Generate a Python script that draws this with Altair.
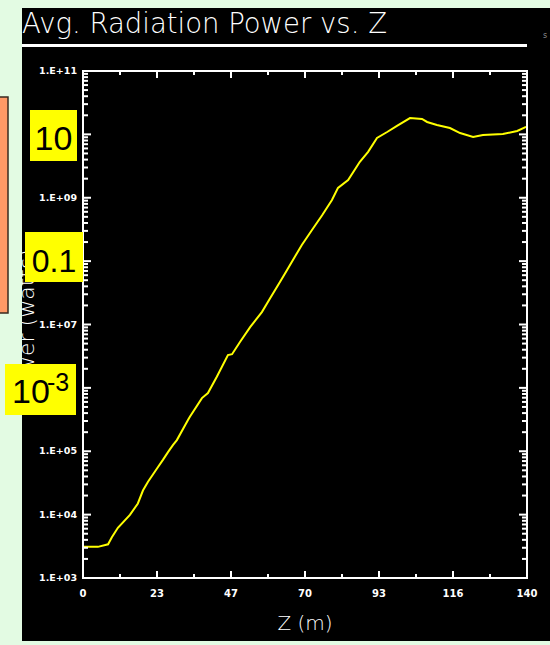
import altair as alt
import pandas as pd

# ---- data ----
z_m = [0, 4.7, 7.9, 9.1, 11.0, 14.8, 17.3, 18.9, 20.5, 23.6, 25.2, 26.8, 28.4, 29.6,
       33.1, 33.7, 37.5, 39.4, 42.2, 45.7, 47.0, 49.5, 52.7, 56.4, 59.0, 62.1, 64.3,
       69.0, 72.2, 75.4, 78.5, 80.4, 83.6, 87.3, 89.9, 92.7, 95.9, 99.0, 103.1, 106.9,
       108.5, 111.6, 115.7, 118.9, 123.0, 126.1, 132.4, 136.9, 139.7]
power_w = [3.1e3, 3.1e3, 3.4e3, 4.4e3, 6.2e3, 9.9e3, 1.5e4, 2.4e4, 3.3e4, 5.6e4, 7.3e4,
           9.7e4, 1.26e5, 1.5e5, 3.1e5, 3.5e5, 6.9e5, 8.3e5, 1.5e6, 3.3e6, 3.4e6, 5.3e6,
           9.1e6, 1.57e7, 2.6e7, 4.7e7, 7.2e7, 1.8e8, 3.1e8, 5.3e8, 9.2e8, 1.43e9, 1.9e9,
           3.7e9, 5.3e9, 8.8e9, 1.09e10, 1.36e10, 1.81e10, 1.75e10, 1.57e10, 1.41e10,
           1.26e10, 1.05e10, 9.1e9, 9.8e9, 1.01e10, 1.13e10, 1.31e10]

x_major = [0, 140 / 6, 280 / 6, 70, 560 / 6, 700 / 6, 140]
x_tick_labels = ["0", "23", "47", "70", "93", "116", "140"]
x_minor = [70 / 6, 210 / 6, 350 / 6, 490 / 6, 630 / 6, 770 / 6]

y_major = [1e3, 1e4, 1e5, 1e6, 1e7, 1e8, 1e9, 1e10, 1e11]
# labels that are visible (the others sit under the yellow unit boxes)
y_label_values = [1e3, 1e4, 1e5, 1e7, 1e9, 1e11]
y_tick_labels = ["1.E+03", "1.E+04", "1.E+05", "1.E+07", "1.E+09", "1.E+11"]
y_minor = [k * 10 ** n for n in range(3, 11) for k in range(2, 10)]

title_text = "Avg. Radiation Power vs. Z"
x_title = "Z (m)"
y_title = "Power (watts)"
unit_labels = ["10", "0.1", "10"]
unit_sup = "-3"

# ---- layout ----
W, H = 444, 507
xs = alt.Scale(domain=[0, 140], nice=False, zero=False)
ys = alt.Scale(type="log", domain=[1e3, 1e11], nice=False)

one = pd.DataFrame({"a": [0]})
line_df = pd.DataFrame({"z": z_m, "p": power_w})
xmaj_df = pd.DataFrame({"z": x_major, "lab": x_tick_labels})
xmin_df = pd.DataFrame({"z": x_minor})
ymaj_df = pd.DataFrame({"p": y_major})
ylab_df = pd.DataFrame({"p": y_label_values, "lab": y_tick_labels})
ymin_df = pd.DataFrame({"p": y_minor})

BLACK_FONT = "Liberation Sans"
VEC_FONT = "DejaVu Sans"


def rect(x1, x2, y1, y2, **kw):
    return alt.Chart(one).mark_rect(**kw).encode(
        x=alt.value(x1), x2=alt.value(x2), y=alt.value(y1), y2=alt.value(y2))


def text(t, x, y, **kw):
    return alt.Chart(one).mark_text(text=t, **kw).encode(x=alt.value(x), y=alt.value(y))


layers = []
# black IDL window
layers.append(rect(-61, 467, -63, 570, color="black"))
# data line
layers.append(alt.Chart(line_df).mark_line(color="#ffff00", strokeWidth=2).encode(
    x=alt.X("z:Q", scale=xs, axis=None),
    y=alt.Y("p:Q", scale=ys, axis=None)))
# frame
layers.append(rect(0, W, 0, H, fill=None, stroke="white", strokeWidth=2, filled=False))

WH = dict(color="white", strokeWidth=2)
# x ticks bottom / top
for df, L in ((xmaj_df, 7), (xmin_df, 4)):
    layers.append(alt.Chart(df).mark_rule(**WH).encode(
        x=alt.X("z:Q", scale=xs, axis=None), y=alt.value(H), y2=alt.value(H - L)))
    layers.append(alt.Chart(df).mark_rule(**WH).encode(
        x=alt.X("z:Q", scale=xs, axis=None), y=alt.value(0), y2=alt.value(L)))
# y ticks left / right
for df, L in ((ymaj_df, 8), (ymin_df, 5)):
    layers.append(alt.Chart(df).mark_rule(**WH).encode(
        y=alt.Y("p:Q", scale=ys, axis=None), x=alt.value(0), x2=alt.value(L)))
    layers.append(alt.Chart(df).mark_rule(**WH).encode(
        y=alt.Y("p:Q", scale=ys, axis=None), x=alt.value(W), x2=alt.value(W - L)))

# tick labels
layers.append(alt.Chart(xmaj_df).mark_text(
    color="white", font=VEC_FONT, fontSize=10, fontWeight="bold",
    align="center", baseline="alphabetic").encode(
    x=alt.X("z:Q", scale=xs, axis=None), y=alt.value(526), text="lab:N"))
layers.append(alt.Chart(ylab_df).mark_text(
    color="white", font=VEC_FONT, fontSize=9.5, fontWeight="bold",
    align="right", baseline="middle").encode(
    y=alt.Y("p:Q", scale=ys, axis=None), x=alt.value(-6), text="lab:N"))

# titles
layers.append(text(title_text, -61, -38, color="white", font=VEC_FONT, fontSize=27.5,
                   fontWeight=200, align="left", baseline="alphabetic"))
layers.append(rect(-62, W, -27, -24, color="white"))
layers.append(text(x_title, W / 2, 559, color="white", font=VEC_FONT, fontSize=20,
                   fontWeight=200, align="center", baseline="alphabetic"))
layers.append(text(y_title, -49, H / 2, color="white", font=VEC_FONT, fontSize=22,
                   fontWeight=200, angle=270, align="center", baseline="alphabetic"))
layers.append(text("s", 462, -33, color="#8a8a8a", font=VEC_FONT, fontSize=8,
                   align="center", baseline="alphabetic"))

# page strip at the left, covering the cut-off part of the y title
layers.append(rect(-83, -61, -71, 574, color="#e3fbe3"))
layers.append(rect(-84, -75, 26, 242, fill="#ff9966", stroke="#3a2a20", strokeWidth=1.5))

# yellow unit boxes
layers.append(rect(-53, -6, 39, 90, color="#ffff00"))
layers.append(text(unit_labels[0], -29.5, 79, color="black", font=BLACK_FONT, fontSize=34,
                   align="center", baseline="alphabetic"))
layers.append(rect(-58, 0, 161, 211, color="#ffff00"))
layers.append(text(unit_labels[1], -29, 201, color="black", font=BLACK_FONT, fontSize=32,
                   align="center", baseline="alphabetic"))
layers.append(rect(-78, -7, 293, 344, color="#ffff00"))
layers.append(text(unit_labels[2], -71, 332, color="black", font=BLACK_FONT, fontSize=34,
                   align="left", baseline="alphabetic"))
layers.append(text(unit_sup, -36, 320, color="black", font=BLACK_FONT, fontSize=25,
                   align="left", baseline="alphabetic"))

chart = alt.layer(*layers).properties(
    width=W, height=H,
    autosize=alt.AutoSizeParams(type="none"),
    padding={"left": 83, "top": 71, "right": 23, "bottom": 67},
    background="#e3fbe3",
).configure_view(stroke=None)

chart.save("out.html", embed_options={"renderer": "svg", "actions": False})
